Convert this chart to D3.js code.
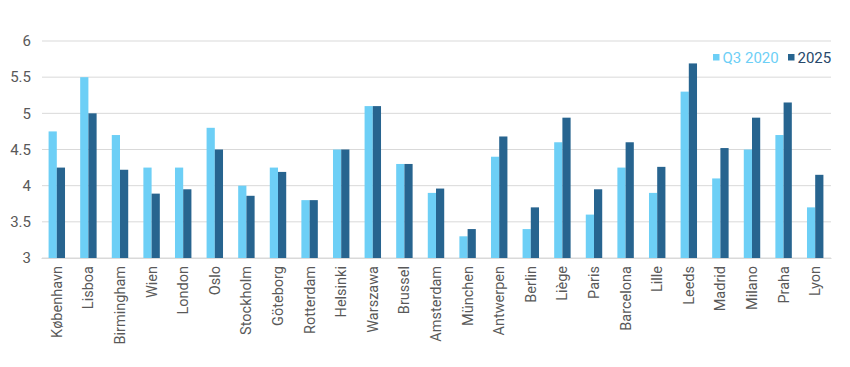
<!DOCTYPE html>
<html><head><meta charset="utf-8">
<script src="https://cdn.jsdelivr.net/npm/d3@7"></script>
<style>body{margin:0;background:#fff;}svg{display:block;font-family:Roboto, "DejaVu Sans", sans-serif;}</style>
</head><body>
<svg id="c" width="850" height="367"></svg>
<script>
const categories = ["København","Lisboa","Birmingham","Wien","London","Oslo","Stockholm","Göteborg","Rotterdam","Helsinki","Warszawa","Brussel","Amsterdam","München","Antwerpen","Berlin","Liège","Paris","Barcelona","Lille","Leeds","Madrid","Milano","Praha","Lyon"];
const seriesNames = ["Q3 2020","2025"];
const q3_2020 = [4.75,5.5,4.7,4.25,4.25,4.8,4.0,4.25,3.8,4.5,5.1,4.3,3.9,3.3,4.4,3.4,4.6,3.6,4.25,3.9,5.3,4.1,4.5,4.7,3.7];
const y2025 = [4.25,5.0,4.22,3.89,3.95,4.5,3.86,4.19,3.8,4.5,5.1,4.3,3.96,3.4,4.68,3.7,4.94,3.95,4.6,4.26,5.69,4.52,4.94,5.15,4.15];
const yTicks = [3,3.5,4,4.5,5,5.5,6];
const colors = ["#6dcff6","#27648f"];

const svg = d3.select("#c");
const x = d3.scaleBand().domain(categories).range([41,831]).paddingInner(0.48).paddingOuter(0.24);
const y = d3.scaleLinear().domain([3,6]).range([258,41]);
const x1 = d3.scaleBand().domain(seriesNames).range([0,x.bandwidth()]);

// gridlines
svg.append("g").selectAll("line").data(yTicks).join("line")
  .attr("x1",42).attr("x2",831).attr("y1",d=>y(d)).attr("y2",d=>y(d))
  .attr("stroke","#d9d9d9").attr("stroke-width",1);

// y axis labels
const yAxis = d3.axisLeft(y).tickValues(yTicks).tickSize(0).tickPadding(0).tickFormat(d=>String(d));
const ga = svg.append("g").attr("transform","translate(31,0)").call(yAxis);
ga.select(".domain").remove();
ga.selectAll("text").attr("fill","#595959").style("font-size","15px").style("font-family","Roboto, sans-serif");

// bars
const data = categories.map((c,i)=>({c, vals:[q3_2020[i], y2025[i]]}));
const g = svg.append("g").selectAll("g").data(data).join("g").attr("transform",d=>`translate(${x(d.c)},0)`);
g.selectAll("rect").data(d=>d.vals.map((v,j)=>({v,s:seriesNames[j],j}))).join("rect")
  .attr("x",d=>x1(d.s)).attr("width",x1.bandwidth())
  .attr("y",d=>y(d.v)).attr("height",d=>y(3)-y(d.v))
  .attr("fill",d=>colors[d.j]);

// x axis
const xAxis = d3.axisBottom(x).tickSize(0).tickPadding(0);
const gx = svg.append("g").attr("transform","translate(0,258)").call(xAxis);
gx.select(".domain").attr("stroke","#d9d9d9");
gx.selectAll("text").attr("fill","#595959").style("font-size","14.5px").style("font-family","Roboto, sans-serif")
  .attr("transform","rotate(-90)").attr("text-anchor","end").attr("x",-8).attr("y",0).attr("dy","0.35em");

// legend
const leg = svg.append("g");
const legItems = [{n:seriesNames[0],x:713,tc:"#6dcff6"},{n:seriesNames[1],x:788,tc:"#27648f"}];
legItems.forEach((d,i)=>{
  leg.append("rect").attr("x",d.x).attr("y",54).attr("width",6.5).attr("height",6.5).attr("fill",colors[i]);
  leg.append("text").attr("x",d.x+9.5).attr("y",63).text(d.n).attr("fill",i===0?"#6dcff6":"#27486a").style("font-size","15px");
});
</script>
</body></html>
